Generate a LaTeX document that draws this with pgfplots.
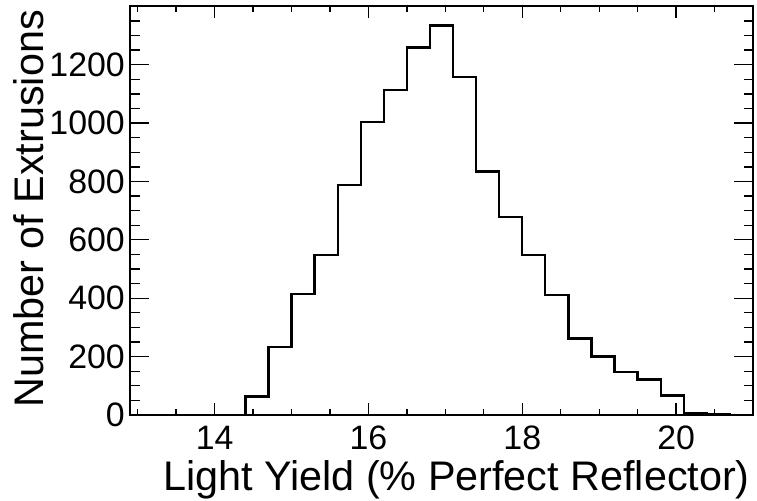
\documentclass[border=0pt]{standalone}
\usepackage{fontspec}
\setmainfont{Liberation Sans}
\usepackage{pgfplots}
\pgfplotsset{compat=1.18}
\begin{document}
\begin{tikzpicture}
\pgfplotsset{
  common/.style={
    scale only axis, width=623bp, height=409bp,
    xmin=12.9, xmax=21.0, ymin=0, ymax=1401,
    xtick={14,16,18,20},
    minor xtick={13,13.5,14.5,15,15.5,16.5,17,17.5,18.5,19,19.5,20.5},
    ytick={0,200,...,1200},
    minor ytick={50,100,150,250,300,350,450,500,550,650,700,750,850,900,950,1050,1100,1150,1250,1300,1350},
    tick align=inside, tick pos=both,
    /pgf/number format/assume math mode=true,
    /pgf/number format/1000 sep={},
  }
}
\begin{axis}[common,
  axis line style={line width=2.5bp, black},
  major tick length=12bp, minor tick length=6.5bp,
  xtick style={line width=1.3bp, black},
  ytick style={draw=none},
  tick label style={font=\fontsize{34}{40}\selectfont},
  xticklabel style={anchor=base, inner sep=0pt, yshift=-34bp},
  yticklabel style={anchor=east, inner sep=0pt, xshift=-5bp},
  xlabel={Light Yield (\% Perfect Reflector)},
  xlabel style={at={(axis description cs:0.9952,-0.1834)}, anchor=base east, inner sep=0pt, font=\fontsize{41.5}{48}\selectfont},
  ylabel={Number of Extrusions},
  ylabel style={at={(axis description cs:-0.1396,0.9902)}, anchor=base east, inner sep=0pt, font=\fontsize{41.5}{48}\selectfont},
]
\addplot[const plot, line width=2.3bp, black, mark=none] coordinates {
(12.9,0) (13.2,0) (13.5,0) (13.8,0) (14.1,0)
(14.4,63) (14.7,232) (15.0,415) (15.3,549) (15.6,787) (15.9,1004)
(16.2,1114) (16.5,1259) (16.8,1334) (17.1,1158) (17.4,834) (17.7,679)
(18.0,549) (18.3,411) (18.6,262) (18.9,200) (19.2,148) (19.5,122)
(19.8,67) (20.1,6) (20.4,3) (20.7,0) (21.0,0)
};
\end{axis}
\begin{axis}[common,
  axis line style={draw=none},
  major tick length=19bp, minor tick length=9.5bp,
  xtick style={draw=none},
  ytick style={line width=1.3bp, black},
  xticklabels={}, yticklabels={},
]
\end{axis}
\pgfresetboundingbox
\path[use as bounding box] (-130bp,-86bp) rectangle (627bp,415bp);
\end{tikzpicture}
\end{document}
